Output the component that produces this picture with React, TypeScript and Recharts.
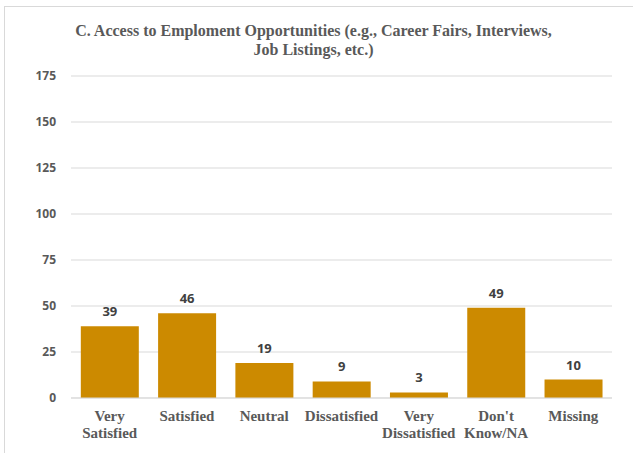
import { BarChart, Bar, XAxis, YAxis, CartesianGrid, LabelList, Text } from 'recharts';

const categories = ['Very Satisfied', 'Satisfied', 'Neutral', 'Dissatisfied', 'Very Dissatisfied', "Don't Know/NA", 'Missing'];
const counts = [39, 46, 19, 9, 3, 49, 10];
const yTicks = [0, 25, 50, 75, 100, 125, 150, 175];

const chartData = categories.map((name, i) => ({ name, value: counts[i] }));

const CategoryTick = (props: any) => {
  const { x, y, payload } = props;
  return (
    <Text
      x={x}
      y={y + 4}
      width={76}
      textAnchor="middle"
      verticalAnchor="start"
      lineHeight={17}
      style={{ fontFamily: '"Liberation Serif", serif', fontWeight: 700, fontSize: 15, fill: '#595959' }}
    >
      {payload.value}
    </Text>
  );
};

export default function App() {
  return (
    <div style={{ position: 'absolute', left: 0, top: 0, width: 633, height: 453, background: '#fff', overflow: 'hidden' }}>
      <div style={{ position: 'absolute', left: 4, top: 6, width: 640, height: 460, borderLeft: '1px solid #d9d9d9', borderTop: '1px solid #d9d9d9' }} />
      <div
        style={{
          position: 'absolute',
          left: 0,
          top: 21,
          width: 627,
          textAlign: 'center',
          fontFamily: '"Liberation Serif", serif',
          fontWeight: 700,
          fontSize: 16,
          lineHeight: '19px',
          color: '#595959',
        }}
      >
        C. Access to Emploment Opportunities (e.g., Career Fairs, Interviews,
        <br />
        Job Listings, etc.)
      </div>
      <BarChart width={633} height={453} data={chartData} margin={{ top: 76, right: 21, left: 0, bottom: 15 }} barCategoryGap="12.7%">
        <CartesianGrid vertical={false} stroke="#d9d9d9" />
        <XAxis dataKey="name" interval={0} height={40} tick={<CategoryTick />} tickLine={false} axisLine={{ stroke: '#d9d9d9' }} />
        <YAxis
          width={71}
          domain={[0, 175]}
          ticks={yTicks}
          axisLine={false}
          tickLine={false}
          tickMargin={9}
          tick={{ fontFamily: '"Open Sans", sans-serif', fontWeight: 700, fontSize: 12, fill: '#595959' }}
        />
        <Bar dataKey="value" fill="#CC8A00" isAnimationActive={false}>
          <LabelList dataKey="value" position="top" offset={10} style={{ fontFamily: '"Open Sans", sans-serif', fontWeight: 700, fontSize: 13, fill: '#404040' }} />
        </Bar>
      </BarChart>
    </div>
  );
}
